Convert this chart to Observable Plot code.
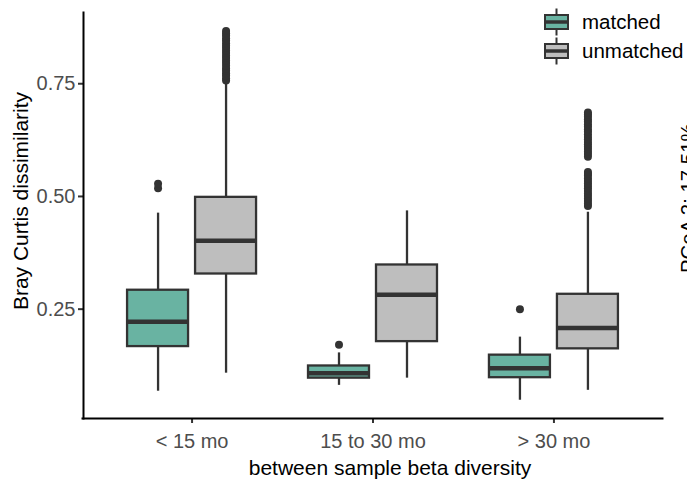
<!DOCTYPE html>
<html>
<head>
<meta charset="utf-8">
<script src="https://cdn.jsdelivr.net/npm/d3@7"></script>
<script src="https://cdn.jsdelivr.net/npm/@observablehq/plot@0.6"></script>
<style>
html, body { margin: 0; padding: 0; background: #ffffff; }
#wrap { position: relative; width: 687px; height: 480px; font-family: "Liberation Sans", Arial, Helvetica, sans-serif; }
#overlay { position: absolute; left: 0; top: 0; pointer-events: none; }
</style>
</head>
<body>
<div id="wrap"></div>
<script>
// ---- data ----
const categories = ["< 15 mo", "15 to 30 mo", "> 30 mo"];
const groups = ["matched", "unmatched"];
const groupColors = ["#69b3a2", "#bebebe"];
const yTicks = [0.25, 0.50, 0.75];

// box statistics per category (matched)
const matchedLower  = [0.068, 0.081, 0.048];
const matchedQ1     = [0.167, 0.097, 0.098];
const matchedMedian = [0.222, 0.108, 0.119];
const matchedQ3     = [0.292, 0.124, 0.148];
const matchedUpper  = [0.463, 0.153, 0.188];
const matchedOutliers = [
  [0.518, 0.528],
  [0.171],
  [0.250]
];

// box statistics per category (unmatched)
const unmatchedLower  = [0.108, 0.097, 0.070];
const unmatchedQ1     = [0.328, 0.178, 0.162];
const unmatchedMedian = [0.402, 0.282, 0.208];
const unmatchedQ3     = [0.498, 0.348, 0.283];
const unmatchedUpper  = [0.754, 0.468, 0.465];
const unmatchedOutliers = [
  [0.757, 0.762, 0.768, 0.773, 0.779, 0.784, 0.790, 0.796, 0.801, 0.807, 0.812,
   0.818, 0.823, 0.829, 0.834, 0.840, 0.846, 0.851, 0.857, 0.862, 0.867],
  [],
  [0.479, 0.484, 0.490, 0.495, 0.501, 0.506, 0.512, 0.518, 0.523, 0.529, 0.534,
   0.540, 0.546, 0.550, 0.554,
   0.588, 0.594, 0.599, 0.605, 0.610, 0.616, 0.621, 0.627, 0.632, 0.638, 0.644,
   0.649, 0.655, 0.660, 0.666, 0.671, 0.677, 0.682, 0.686]
];

const xTitle = "between sample beta diversity";
const yTitle = "Bray Curtis dissimilarity";
const sideText = "PCoA 2: 17.51%";

// ---- build tables ----
const stats = {
  matched:   {lower: matchedLower, q1: matchedQ1, median: matchedMedian, q3: matchedQ3, upper: matchedUpper, out: matchedOutliers},
  unmatched: {lower: unmatchedLower, q1: unmatchedQ1, median: unmatchedMedian, q3: unmatchedQ3, upper: unmatchedUpper, out: unmatchedOutliers}
};
const boxes = [];
const outliers = [];
for (const g of groups) {
  const s = stats[g];
  categories.forEach((c, i) => {
    boxes.push({category: c, group: g, lower: s.lower[i], q1: s.q1[i], median: s.median[i], q3: s.q3[i], upper: s.upper[i]});
    for (const v of s.out[i]) outliers.push({category: c, group: g, value: v});
  });
}

// ---- layout ----
const W = 687, H = 480, mL = 83, mR = 25, mT = 12, mB = 62;
const fxPadOuter = 0.1;
const fxStep = (W - mL - mR) / (categories.length + 2 * fxPadOuter);
const outerPad = fxPadOuter * fxStep;
const dark = "#333333";

const chart = Plot.plot({
  width: W, height: H,
  marginLeft: mL, marginRight: mR, marginTop: mT, marginBottom: mB,
  style: {fontFamily: "'Liberation Sans', Arial, Helvetica, sans-serif", background: "#ffffff", overflow: "visible"},
  fx: {domain: categories, paddingInner: 0, paddingOuter: fxPadOuter, round: false, label: null, axis: null},
  x: {domain: groups, paddingInner: 0.103, paddingOuter: 0.382, round: false, axis: null, label: null},
  y: {domain: [0.0075, 0.908], axis: null, label: null},
  color: {domain: groups, range: groupColors},
  marks: [
    Plot.ruleX(boxes, {fx: "category", x: "group", y1: "q3", y2: "upper", stroke: dark, strokeWidth: 2.3}),
    Plot.ruleX(boxes, {fx: "category", x: "group", y1: "lower", y2: "q1", stroke: dark, strokeWidth: 2.3}),
    Plot.barY(boxes, {fx: "category", x: "group", y1: "q1", y2: "q3", fill: "group", stroke: dark, strokeWidth: 2.3}),
    Plot.tickY(boxes, {fx: "category", x: "group", y: "median", stroke: dark, strokeWidth: 4.5}),
    Plot.dot(outliers, {fx: "category", x: "group", y: "value", r: 4, fill: dark, stroke: null}),
    Plot.axisY({ticks: yTicks, tickFormat: ".2f", tickSize: 5, tickPadding: 3, fontSize: 20,
                stroke: dark, fill: "#4d4d4d", strokeWidth: 2, dx: -outerPad, label: null}),
    Plot.axisFx({anchor: "bottom", tickSize: 5, tickPadding: 10, fontSize: 20,
                 stroke: dark, fill: "#4d4d4d", strokeWidth: 2, label: null}),
    Plot.frame({facet: "super", anchor: "left", stroke: "#000", strokeWidth: 2, dx: -outerPad}),
    Plot.frame({facet: "super", anchor: "bottom", stroke: "#000", strokeWidth: 2,
                insetLeft: -outerPad - 1, insetRight: -outerPad})
  ]
});

const wrap = document.getElementById("wrap");
wrap.appendChild(chart);

// ---- overlay: axis titles, legend, clipped neighbour label ----
const svg = d3.select(wrap).append("svg")
  .attr("id", "overlay").attr("width", W).attr("height", H)
  .style("font-family", "'Liberation Sans', Arial, Helvetica, sans-serif");

svg.append("text").attr("x", 390).attr("y", 475).attr("text-anchor", "middle")
  .attr("font-size", 21).attr("fill", "#000").text(xTitle);
svg.append("text").attr("transform", "translate(27.5,201) rotate(-90)").attr("text-anchor", "middle")
  .attr("font-size", 21).attr("fill", "#000").text(yTitle);
svg.append("text").attr("transform", "translate(695,273) rotate(-90)").attr("text-anchor", "start")
  .attr("font-size", 20.4).attr("fill", "#000").text(sideText);

groups.forEach((g, i) => {
  const cy = 22 + i * 29;
  const k = svg.append("g");
  k.append("line").attr("x1", 556.5).attr("x2", 556.5).attr("y1", cy - 13.5).attr("y2", cy + 13.5)
    .attr("stroke", dark).attr("stroke-width", 2);
  k.append("rect").attr("x", 545).attr("y", cy - 7).attr("width", 23).attr("height", 14)
    .attr("fill", groupColors[i]).attr("stroke", dark).attr("stroke-width", 2);
  k.append("line").attr("x1", 545).attr("x2", 568).attr("y1", cy).attr("y2", cy)
    .attr("stroke", dark).attr("stroke-width", 3.5);
  svg.append("text").attr("x", 582).attr("y", cy + 6.8).attr("font-size", 20.5).attr("fill", "#000").text(g);
});
</script>
</body>
</html>
